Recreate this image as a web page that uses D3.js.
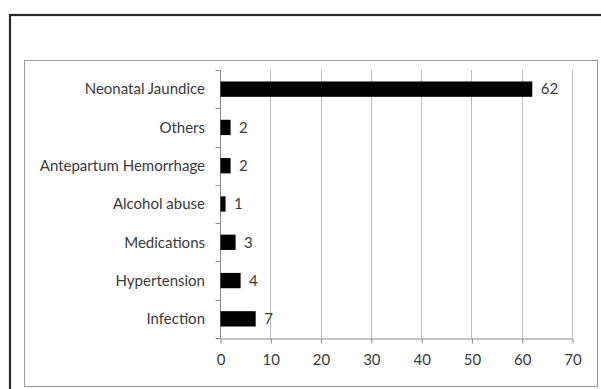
<!DOCTYPE html>
<html>
<head>
<meta charset="utf-8">
<script src="https://cdn.jsdelivr.net/npm/d3@7"></script>
<style>
  html, body { margin: 0; padding: 0; background: #fff; }
  svg { display: block; }
</style>
</head>
<body>
<svg id="chart" width="601" height="389"></svg>
<script>
// Categories listed top to bottom, with their counts
const categories = ["Neonatal Jaundice", "Others", "Antepartum Hemorrhage", "Alcohol abuse", "Medications", "Hypertension", "Infection"];
const counts = [62, 2, 2, 1, 3, 4, 7];
const xTicks = [0, 10, 20, 30, 40, 50, 60, 70];

const svg = d3.select("#chart");
const font = "Lato, 'Open Sans', sans-serif";
const fontSize = "15px";
const textColor = "#3a3a3a";

// Outer frame (runs past the right and bottom edges)
svg.append("rect")
  .attr("x", 10).attr("y", 15).attr("width", 620).attr("height", 400)
  .attr("fill", "#fff").attr("stroke", "#2a2a2a").attr("stroke-width", 2.2);

// Chart area frame
svg.append("rect")
  .attr("x", 24.5).attr("y", 60.5).attr("width", 573).attr("height", 326)
  .attr("fill", "#fff").attr("stroke", "#9a9a9a").attr("stroke-width", 1);

const plot = { left: 220, right: 572, top: 70, bottom: 338 };

const x = d3.scaleLinear().domain([0, 70]).range([plot.left, plot.right]);
const y = d3.scaleBand().domain(categories).range([plot.top, plot.bottom]).paddingInner(0.6).paddingOuter(0.3);
const yBand = d3.scaleBand().domain(categories).range([plot.top, plot.bottom]);

// Vertical gridlines
svg.append("g").selectAll("line")
  .data(xTicks.filter(t => t > 0))
  .join("line")
  .attr("x1", d => Math.round(x(d)) + 0.5).attr("x2", d => Math.round(x(d)) + 0.5)
  .attr("y1", plot.top).attr("y2", plot.bottom)
  .attr("stroke", "#bdbdbd").attr("stroke-width", 1);

// Bottom value axis
const xAxis = svg.append("g")
  .attr("transform", `translate(0.5,${plot.bottom + 0.5})`)
  .call(d3.axisBottom(x).tickValues(xTicks).tickSize(5).tickSizeOuter(0).tickPadding(11));
xAxis.select(".domain").attr("stroke", "#8a8a8a");
xAxis.selectAll(".tick line").attr("stroke", "#8a8a8a");
xAxis.selectAll(".tick text")
  .attr("fill", textColor).style("font-family", font).style("font-size", fontSize);

// Left category axis: ticks sit on band boundaries
const yAxisG = svg.append("g").attr("transform", `translate(${plot.left + 0.5},0)`);
yAxisG.append("line")
  .attr("x1", 0).attr("x2", 0).attr("y1", plot.top).attr("y2", plot.bottom)
  .attr("stroke", "#8a8a8a");
const bounds = categories.map(c => yBand(c)).concat([plot.bottom]);
yAxisG.selectAll("line.tk")
  .data(bounds)
  .join("line").attr("class", "tk")
  .attr("x1", -5).attr("x2", 0)
  .attr("y1", d => Math.round(d) + 0.5).attr("y2", d => Math.round(d) + 0.5)
  .attr("stroke", "#8a8a8a");

// Category labels
svg.append("g").selectAll("text")
  .data(categories)
  .join("text")
  .attr("x", plot.left - 15)
  .attr("y", d => yBand(d) + yBand.bandwidth() / 2)
  .attr("dy", "0.35em")
  .attr("text-anchor", "end")
  .attr("fill", textColor)
  .style("font-family", font).style("font-size", fontSize)
  .text(d => d);

// Bars
svg.append("g").selectAll("rect")
  .data(categories)
  .join("rect")
  .attr("x", x(0) + 0.5)
  .attr("y", d => y(d))
  .attr("width", (d, i) => x(counts[i]) - x(0))
  .attr("height", y.bandwidth())
  .attr("fill", "#000");

// Value labels
svg.append("g").selectAll("text")
  .data(categories)
  .join("text")
  .attr("x", (d, i) => x(counts[i]) + 9)
  .attr("y", d => yBand(d) + yBand.bandwidth() / 2)
  .attr("dy", "0.35em")
  .attr("fill", textColor)
  .style("font-family", font).style("font-size", fontSize)
  .text((d, i) => counts[i]);
</script>
</body>
</html>
